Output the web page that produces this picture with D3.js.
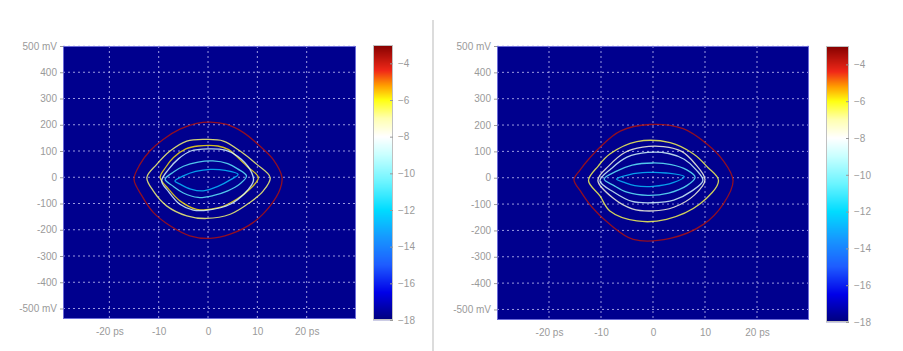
<!DOCTYPE html>
<html>
<head>
<meta charset="utf-8">
<script src="https://cdn.jsdelivr.net/npm/d3@7"></script>
<style>
  body { margin: 0; background: #fff; }
  svg { display: block; font-family: "Liberation Sans", Arial, sans-serif; }
</style>
</head>
<body>
<div id="chart"></div>
<script>
// ---- data ----
const xTicks = [-20, -10, 0, 10, 20];
const yTicks = [500, 400, 300, 200, 100, 0, -100, -200, -300, -400, -500];
const cbTicks = [-4, -6, -8, -10, -12, -14, -16, -18];

// colour map of the colour bar (log BER), dark blue -> white -> dark red
const cmapLevels = [-18, -16.5, -15, -13.5, -12, -10.5, -9, -8, -7, -6, -5.2, -4.4, -3];
const cmapColors = ["#00007c", "#0000e8", "#1e5cff", "#1698ff", "#00dcff", "#6af4ff", "#c8ffff",
                    "#ffffff", "#ffffb0", "#ffff10", "#ff9c00", "#f02818", "#840000"];

// left panel contours, [ps, mV]
const leftLevels = [-3.6, -6.6, -5.8, -8.6, -10.6, -12.6];
const leftRed = [[-15.0, -8], [-13.8, 49], [-11.8, 100], [-9.1, 144], [-5.7, 183], [-2.3, 205], [0.4, 210],
  [3.8, 201], [7.2, 170], [10.5, 119], [13.2, 68], [15.0, -1], [14.6, -46], [12.6, -109], [9.2, -172],
  [4.5, -217], [0.4, -233], [-3.7, -223], [-7.7, -185], [-11.1, -134], [-13.4, -71]];
const leftYellow = [[-12.4, -1], [-10.4, 49], [-7.7, 100], [-4.3, 138], [-0.3, 144], [3.1, 138], [6.5, 100],
  [9.9, 49], [12.6, -1], [11.2, -52], [8.5, -96], [4.5, -141], [-0.3, -157], [-4.3, -147], [-8.4, -109], [-11.1, -52]];
const leftOrange = [[-9.7, -1], [-8.5, 40], [-7.0, 75], [-4.5, 108], [-2, 119], [2, 119], [4.2, 105], [5.5, 85],
  [8, 40], [10.2, -1], [8.5, -45], [5.8, -84], [2.4, -115], [-2.3, -122], [-5.7, -90], [-8, -45]];
const leftWhite = [[-9.4, -14], [-8, 30], [-6, 70], [-3.5, 100], [0, 108], [3.5, 103], [6, 80], [8.5, 30],
  [9.2, -14], [7.5, -60], [4.5, -103], [0, -125], [-3, -125], [-5.7, -103], [-8, -55]];
const leftCyan = [[-8.7, -8], [-7, 20], [-5, 42], [-2, 58], [1, 62], [4, 52], [6, 32], [7.8, 5], [6.5, -25],
  [4, -52], [1, -70], [-2, -77], [-5, -60], [-7, -35]];
const leftBlue = [[-6.7, -14], [-5, 5], [-2.5, 22], [0.5, 30], [3.5, 26], [6.1, 11], [4.5, -10], [2, -35],
  [-1, -52], [-3.5, -45], [-5.5, -28]];

// right panel contours, [ps, mV]
const rightLevels = [-3.6, -6.4, -7.6, -8.7, -10.6, -12.6];
const rightRed = [[-15.2, -8], [-14.0, 30], [-12.3, 72], [-10.2, 116], [-6.3, 177], [-0.6, 202], [5.8, 186],
  [10.3, 129], [13.5, 65], [15.4, -11], [13.5, -100], [9.7, -177], [3.3, -230], [-3.8, -234], [-8.3, -177],
  [-11.8, -110], [-13.9, -52]];
const rightYellow = [[-12.4, -11], [-10.5, 45], [-8.3, 90], [-3.1, 137], [3.3, 133], [7.8, 90], [10.5, 40],
  [12.6, -11], [9.0, -100], [2.6, -158], [-3.1, -164], [-8.3, -126], [-10.2, -69]];
const rightWhite = [[-10.6, -10], [-8.5, 45], [-5.5, 95], [-2, 116], [2, 118], [5.5, 100], [8, 55], [10, -8],
  [8, -65], [4, -112], [0, -126], [-4, -118], [-7.5, -80]];
const rightLilac = [[-10.2, -12], [-8, 35], [-5, 78], [-1, 96], [3, 92], [6, 70], [8.3, 30], [9.6, -10],
  [7.5, -50], [4, -85], [0, -95], [-4, -90], [-7.5, -55]];
const rightCyan = [[-9.4, -5], [-7, 25], [-4, 48], [0, 56], [3.5, 50], [6.5, 30], [8.1, 2], [6.5, -30],
  [3, -58], [-1, -67], [-5, -55], [-7.5, -30]];
const rightBlue = [[-7, -5], [-4.5, 12], [-1, 20], [2.5, 18], [6, 4], [4, -18], [0, -33], [-3.5, -30], [-5.5, -18]];

// ---- drawing ----
const width = 903, height = 351;
const svg = d3.select("#chart").append("svg")
  .attr("width", width).attr("height", height);

const cmap = d3.scaleLinear().domain(cmapLevels).range(cmapColors).clamp(true);
const textColor = "#9a9a9a";

svg.append("line")
  .attr("x1", 433).attr("x2", 433).attr("y1", 20).attr("y2", height)
  .attr("stroke", "#dcdcdc").attr("stroke-width", 2);

function drawPanel(p) {
  const g = svg.append("g");
  const x = d3.scaleLinear().domain(p.xDomain).range([p.left, p.right]);
  const y = d3.scaleLinear().domain([-540, 500]).range([p.bottom, p.top]);

  g.append("rect")
    .attr("x", p.left).attr("y", p.top)
    .attr("width", p.right - p.left).attr("height", p.bottom - p.top)
    .attr("fill", "#00008e");

  // dotted grid
  g.append("g").selectAll("line").data(xTicks).join("line")
    .attr("x1", d => x(d)).attr("x2", d => x(d))
    .attr("y1", p.top).attr("y2", p.bottom)
    .attr("stroke", "#c0c0f4").attr("stroke-opacity", 0.8)
    .attr("stroke-dasharray", "2,3");
  g.append("g").selectAll("line").data(yTicks).join("line")
    .attr("x1", p.left).attr("x2", p.right)
    .attr("y1", d => y(d)).attr("y2", d => y(d))
    .attr("stroke", "#c0c0f4").attr("stroke-opacity", 0.8)
    .attr("stroke-dasharray", "2,3");

  // contours
  const line = d3.line()
    .x(d => x(d[0])).y(d => y(d[1]))
    .curve(d3.curveCatmullRomClosed.alpha(0.5));
  p.contours.forEach((c, i) => {
    g.append("path")
      .attr("d", line(c))
      .attr("fill", "none")
      .attr("stroke", cmap(p.levels[i]))
      .attr("stroke-opacity", 0.82)
      .attr("stroke-width", 1.3);
  });

  g.append("rect")
    .attr("x", p.left + 0.5).attr("y", p.top + 0.5)
    .attr("width", p.right - p.left - 1).attr("height", p.bottom - p.top - 1)
    .attr("fill", "none").attr("stroke", "#6c6cd8");

  // axes
  const yAxis = d3.axisLeft(y).tickValues(yTicks).tickSize(3).tickPadding(3)
    .tickFormat(d => Math.abs(d) === 500 ? `${d} mV` : d);
  g.append("g")
    .attr("transform", `translate(${p.left},0)`)
    .call(yAxis)
    .call(a => a.select(".domain").remove())
    .call(a => a.selectAll("line").attr("stroke", textColor))
    .call(a => a.selectAll("text").attr("fill", textColor).attr("font-size", 10).attr("font-family", null));

  const xAxis = d3.axisBottom(x).tickValues(xTicks).tickSize(0).tickPadding(9)
    .tickFormat(d => Math.abs(d) === 20 ? `${d} ps` : d);
  g.append("g")
    .attr("transform", `translate(0,${p.bottom})`)
    .call(xAxis)
    .call(a => a.select(".domain").remove())
    .call(a => a.selectAll("text").attr("fill", textColor).attr("font-size", 10).attr("font-family", null));

  // colour bar
  const cb = d3.scaleLinear().domain([-18, -3]).range([p.cbBottom, p.cbTop]);
  const steps = d3.range(p.cbTop, p.cbBottom, 1);
  g.append("g").selectAll("rect").data(steps).join("rect")
    .attr("x", p.cbLeft).attr("y", d => d)
    .attr("width", p.cbWidth).attr("height", 1.2)
    .attr("fill", d => cmap(cb.invert(d + 0.5)));
  g.append("rect")
    .attr("x", p.cbLeft + 0.5).attr("y", p.cbTop + 0.5)
    .attr("width", p.cbWidth - 1).attr("height", p.cbBottom - p.cbTop - 1)
    .attr("fill", "none").attr("stroke", "#c0c0c0");
  g.append("g")
    .attr("transform", `translate(${p.cbLeft + p.cbWidth},0)`)
    .call(d3.axisRight(cb).tickValues(cbTicks).tickSize(3).tickPadding(2))
    .call(a => a.select(".domain").remove())
    .call(a => a.selectAll("line").attr("stroke", textColor).attr("transform", "translate(-3,0)"))
    .call(a => a.selectAll("text").attr("fill", textColor).attr("font-size", 10).attr("font-family", null));
}

drawPanel({
  left: 63, right: 356, top: 46, bottom: 319, xDomain: [-29.4, 30],
  levels: leftLevels,
  contours: [leftRed, leftYellow, leftOrange, leftWhite, leftCyan, leftBlue],
  cbLeft: 373, cbWidth: 20, cbTop: 45, cbBottom: 320
});
drawPanel({
  left: 497, right: 809, top: 46, bottom: 320, xDomain: [-30, 30],
  levels: rightLevels,
  contours: [rightRed, rightYellow, rightWhite, rightLilac, rightCyan, rightBlue],
  cbLeft: 826, cbWidth: 23, cbTop: 46, cbBottom: 322
});
</script>
</body>
</html>
